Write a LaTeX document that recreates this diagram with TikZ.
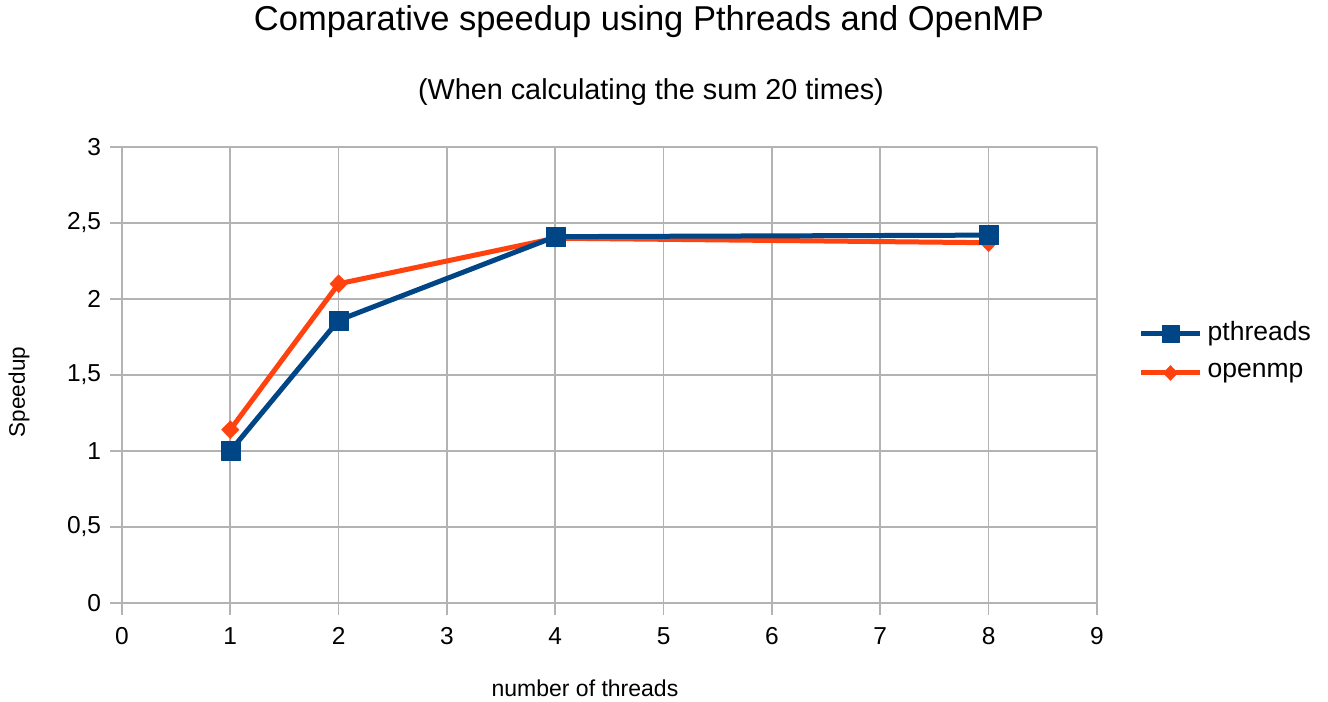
\documentclass[tikz,border=0pt]{standalone}
\usepackage{fontspec}
\setmainfont{Liberation Sans}
\usetikzlibrary{plotmarks}

\definecolor{pthrblue}{HTML}{004586}
\definecolor{omporange}{HTML}{FF420E}
\definecolor{gridgray}{HTML}{B3B3B3}

\begin{document}
\begin{tikzpicture}[x=108.33pt,y=152pt,
  gridline/.style={gridgray,line width=1.7pt},
  pthr/.style={pthrblue,line width=5pt,line join=round,mark=square*,
    mark size=9.5pt,mark options={solid,line width=0.4pt}},
  omp/.style={omporange,line width=5pt,line join=round,mark=diamond*,
    mark size=9pt,mark options={solid,line width=0.4pt,xscale=1.3}},
  ticklab/.style={font=\fontsize{24.5}{28}\selectfont}]
\useasboundingbox (-1.126,-0.651) rectangle (11.133,3.967);
% Speedup vs. number of threads, sum computed 20 times
% grid lines with outer ticks
\foreach \yv/\ylab [count=\i] in {0/0,0.5/{0,5},1/1,1.5/{1,5},2/2,2.5/{2,5},3/3} {
  \draw[gridline] (-0.11,\yv) -- (9,\yv);
  \node[ticklab,anchor=east] (ylab\i) at (-0.16,\yv) {\ylab};
}
\foreach \xv in {0,...,9} {
  \draw[gridline] (\xv,-0.08) -- (\xv,3);
  \node[ticklab] (xlab\xv) at (\xv,-0.217) {\xv};
}
% measured speedups (openmp under pthreads)
\draw[omp] plot coordinates {(1,1.14) (2,2.10) (4,2.40) (8,2.37)};
\draw[pthr] plot coordinates {(1,1) (2,1.86) (4,2.41) (8,2.42)};
% titles
\node[font=\fontsize{34.5}{40}\selectfont] (title) at (4.865,3.822)
  {Comparative speedup using Pthreads and OpenMP};
\node[font=\fontsize{28.8}{34}\selectfont] (subtitle) at (4.883,3.362)
  {(When calculating the sum 20 times)};
\node[font=\fontsize{22.5}{27}\selectfont,rotate=90] (ylabel) at (-0.951,1.388) {Speedup};
\node[font=\fontsize{23}{28}\selectfont] (xlabel) at (4.274,-0.559) {number of threads};
% legend
\draw[pthr,mark size=8.5pt,mark indices={2}] plot coordinates {(9.407,1.770) (9.679,1.770) (9.951,1.770)};
\node[font=\fontsize{26.5}{32}\selectfont,anchor=west] (leg-pthr) at (9.99,1.770) {pthreads};
\draw[omp,mark size=7.5pt,mark indices={2}] plot coordinates {(9.407,1.513) (9.679,1.513) (9.951,1.513)};
\node[font=\fontsize{26.5}{32}\selectfont,anchor=west] (leg-omp) at (9.99,1.513) {openmp};
\end{tikzpicture}
\end{document}
